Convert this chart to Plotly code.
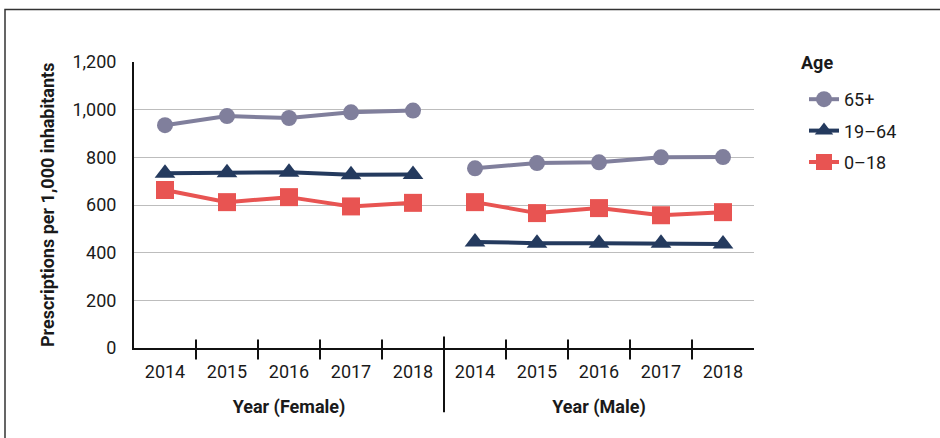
import plotly.graph_objects as go
from plotly.subplots import make_subplots

# ---- data ----
years = ["2014", "2015", "2016", "2017", "2018"]
age_groups = ["65+", "19–64", "0–18"]
female_65_plus = [935, 973, 965, 989, 996]
female_19_64 = [733, 735, 737, 727, 728]
female_0_18 = [663, 612, 633, 594, 609]
male_65_plus = [754, 776, 779, 800, 801]
male_19_64 = [445, 440, 440, 440, 436]
male_0_18 = [612, 566, 587, 557, 570]
y_tick_vals = [0, 200, 400, 600, 800, 1000, 1200]
y_tick_text = ["0", "200", "400", "600", "800", "1,000", "1,200"]
panel_titles = ["Year (Female)", "Year (Male)"]

colors = ["#807F9C", "#243A5E", "#E85452"]
symbols = ["circle", "triangle-up", "square"]
sizes = [16, 18, 18]

female = [female_65_plus, female_19_64, female_0_18]
male = [male_65_plus, male_19_64, male_0_18]

FONT = "Roboto, Arial, sans-serif"
TXT = "#1a1a1a"
FS = 18

fig = make_subplots(rows=1, cols=2, shared_yaxes=True, horizontal_spacing=0)

for i, name in enumerate(age_groups):
    for col, series in ((1, female[i]), (2, male[i])):
        fig.add_trace(
            go.Scatter(
                x=years, y=series, name=name, mode="lines+markers",
                legendgroup=name, showlegend=(col == 1),
                line=dict(color=colors[i], width=4),
                marker=dict(symbol=symbols[i], size=sizes[i], color=colors[i]),
            ),
            row=1, col=col,
        )

for col in (1, 2):
    fig.update_xaxes(
        type="category", range=[-0.5, 4.5], showgrid=False,
        showline=True, linecolor="#111", linewidth=2,
        ticks="", ticklabelstandoff=6,
        tickfont=dict(family=FONT, size=FS, color=TXT),
        title=dict(text="<b>%s</b>" % panel_titles[col - 1],
                   font=dict(family=FONT, size=FS, color=TXT), standoff=20),
        row=1, col=col,
    )
    fig.update_yaxes(
        range=[0, 1200], tickvals=y_tick_vals, ticktext=y_tick_text,
        showgrid=True, gridcolor="#bdbdbd", gridwidth=1, zeroline=False,
        row=1, col=col,
    )

fig.update_yaxes(showline=True, linecolor="#111", linewidth=2,
                 tickfont=dict(family=FONT, size=FS, color=TXT),
                 ticklabelstandoff=12, row=1, col=1)
fig.update_yaxes(showline=False, row=1, col=2)

# tick marks between categories (crossing the axis) and the panel divider
shapes = []
for xr in ("x", "x2"):
    for b in (0.5, 1.5, 2.5, 3.5):
        shapes.append(dict(type="line", xref=xr, yref="paper", x0=b, x1=b,
                           y0=-0.04, y1=0.03, line=dict(color="#111", width=2)))
shapes.append(dict(type="line", xref="paper", yref="paper", x0=0.5, x1=0.5,
                   y0=-0.225, y1=0.04, line=dict(color="#111", width=2)))
# outer frame
shapes.append(dict(type="rect", xref="paper", yref="paper",
                   x0=(5 - 134) / 620, x1=(960 - 134) / 620,
                   y0=-0.5, y1=(348 - 9.5) / 286,
                   line=dict(color="#333", width=1.5), fillcolor="rgba(0,0,0,0)"))

fig.add_annotation(
    text="<b>Prescriptions per 1,000 inhabitants</b>", textangle=-90,
    xref="paper", yref="paper", x=(47 - 134) / 620, y=0.5,
    xanchor="center", yanchor="middle", showarrow=False,
    font=dict(family=FONT, size=FS, color=TXT),
)
fig.add_annotation(
    text="<b>Age</b>", xref="paper", yref="paper",
    x=(799 - 134) / 620, y=(348 - 62) / 286,
    xanchor="left", yanchor="middle", showarrow=False,
    font=dict(family=FONT, size=FS, color=TXT),
)

fig.update_layout(
    width=940, height=438,
    margin=dict(l=134, r=186, t=62, b=90),
    paper_bgcolor="white", plot_bgcolor="white",
    shapes=shapes,
    showlegend=True,
    legend=dict(
        font=dict(family=FONT, size=FS, color=TXT),
        x=(804 - 134) / 620, xanchor="left", y=(348 - 81) / 286, yanchor="top",
        tracegroupgap=5, bgcolor="rgba(0,0,0,0)",
    ),
)

fig.write_html("out.html", config={"displayModeBar": False},
               post_script="document.body.style.margin='0';")
